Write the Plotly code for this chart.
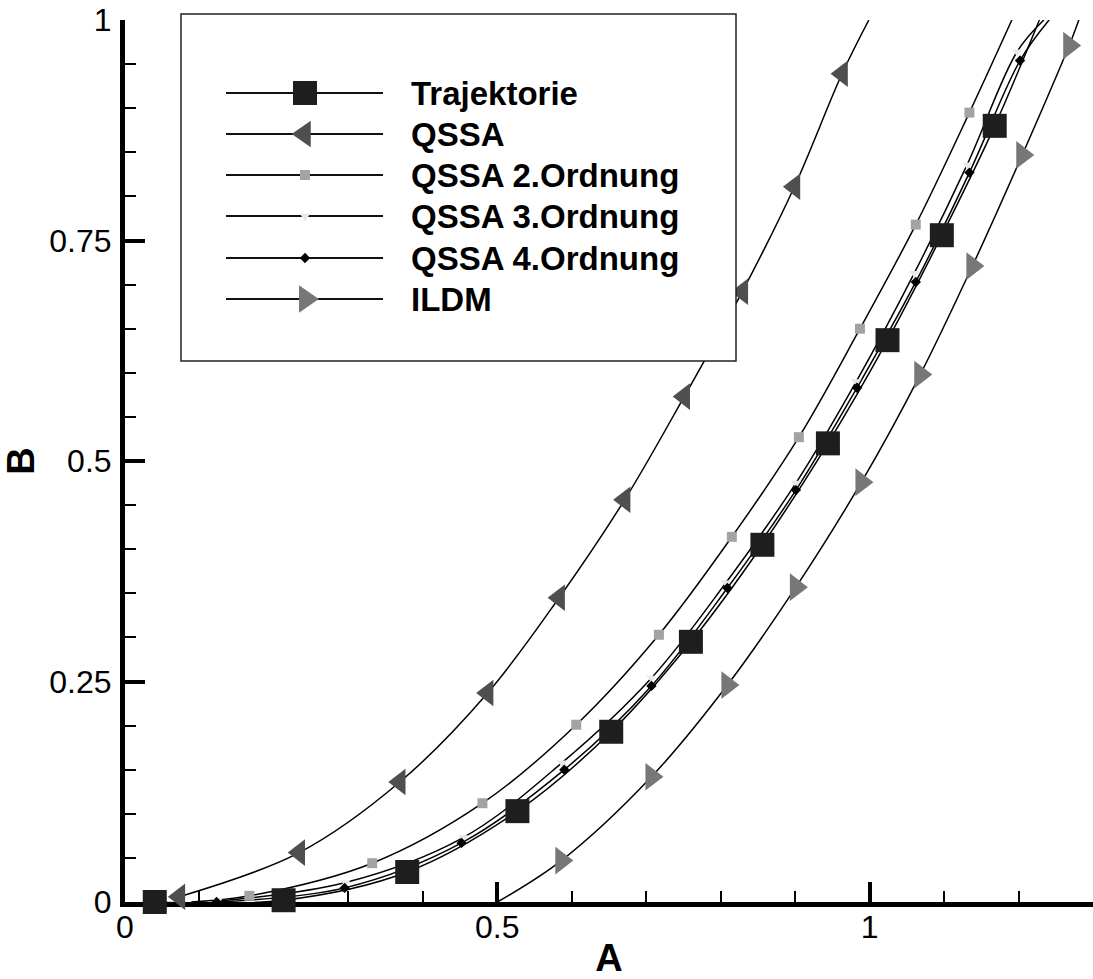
import math
import plotly.graph_objects as go

# ------------------------------------------------------------------
# Data: marker positions (A, B) of every curve, plus the point where
# each curve starts and where it leaves the top of the frame.
# ------------------------------------------------------------------
TRAJ_A = [0.040, 0.213, 0.379, 0.527, 0.653, 0.760, 0.856, 0.944, 1.024, 1.097, 1.168]
TRAJ_B = [0.000, 0.002, 0.034, 0.103, 0.193, 0.295, 0.405, 0.520, 0.637, 0.756, 0.880]
TRAJ_START = None
TRAJ_END = (1.228, 1.0)

QSSA_A = [0.073, 0.234, 0.369, 0.487, 0.583, 0.671, 0.751, 0.829, 0.899, 0.963]
QSSA_B = [0.006, 0.056, 0.136, 0.237, 0.345, 0.456, 0.573, 0.692, 0.811, 0.939]
QSSA_START = None
QSSA_END = (0.999, 1.0)

QSSA2_A = [0.167, 0.332, 0.480, 0.606, 0.717, 0.815, 0.905, 0.987, 1.062, 1.134]
QSSA2_B = [0.007, 0.044, 0.112, 0.201, 0.303, 0.414, 0.527, 0.650, 0.768, 0.895]
QSSA2_START = (0.089, 0.0)
QSSA2_END = (1.191, 1.0)

QSSA3_A = [0.124, 0.296, 0.454, 0.587, 0.707, 0.807, 0.901, 0.982, 1.060, 1.131, 1.198]
QSSA3_B = [0.001, 0.022, 0.073, 0.158, 0.254, 0.362, 0.475, 0.590, 0.713, 0.836, 0.964]
QSSA3_START = None
QSSA3_END = (1.234, 1.0)

QSSA4_A = [0.123, 0.295, 0.452, 0.590, 0.707, 0.809, 0.901, 0.983, 1.062, 1.134, 1.202]
QSSA4_B = [0.000, 0.016, 0.067, 0.150, 0.245, 0.356, 0.467, 0.583, 0.703, 0.827, 0.954]
QSSA4_START = None
QSSA4_END = (1.241, 1.0)

ILDM_A = [0.586, 0.707, 0.809, 0.901, 0.989, 1.068, 1.138, 1.205, 1.268]
ILDM_B = [0.047, 0.142, 0.246, 0.357, 0.476, 0.598, 0.721, 0.847, 0.971]
ILDM_START = (0.500, 0.0)
ILDM_END = (1.281, 1.0)

NAMES = ["Trajektorie", "QSSA", "QSSA 2.Ordnung", "QSSA 3.Ordnung",
         "QSSA 4.Ordnung", "ILDM"]

X_TICKS = [0, 0.5, 1]
Y_TICKS = [0, 0.25, 0.5, 0.75, 1]

# ------------------------------------------------------------------
# Styling
# ------------------------------------------------------------------
FONT = "Liberation Sans, Arial, Helvetica, sans-serif"
W, H = 1093, 979
L, R, T, B = 125, 0, 20, 77          # plot area margins (px)

series = [
    (TRAJ_A, TRAJ_B, TRAJ_START, TRAJ_END, dict(symbol="square", size=24, color="#1e1e1e")),
    (QSSA_A, QSSA_B, QSSA_START, QSSA_END, dict(symbol="triangle-left", size=23, color="#4f4f4f")),
    (QSSA2_A, QSSA2_B, QSSA2_START, QSSA2_END, dict(symbol="square", size=10, color="#a3a3a3")),
    (QSSA3_A, QSSA3_B, QSSA3_START, QSSA3_END, dict(symbol="triangle-down", size=9, color="#e8e8e8")),
    (QSSA4_A, QSSA4_B, QSSA4_START, QSSA4_END, dict(symbol="diamond", size=8, color="#000000")),
    (ILDM_A, ILDM_B, ILDM_START, ILDM_END, dict(symbol="triangle-right", size=24, color="#777777")),
]

fig = go.Figure()

# curves first
for (xa, yb, start, end, mk), name in zip(series, NAMES):
    lx, ly = list(xa), list(yb)
    if start is not None:
        lx.insert(0, start[0]); ly.insert(0, start[1])
    if end is not None:
        lx.append(end[0]); ly.append(end[1])
    fig.add_trace(go.Scatter(
        x=lx, y=ly, mode="lines", name=name, showlegend=False,
        line=dict(color="black", width=1.5, shape="spline", smoothing=1.0),
        hoverinfo="skip"))

# symbols on top of all curves
for (xa, yb, start, end, mk), name in zip(series, NAMES):
    fig.add_trace(go.Scatter(
        x=xa, y=yb, mode="markers", name=name, showlegend=False,
        cliponaxis=False,
        marker=dict(symbol=mk["symbol"], size=mk["size"], color=mk["color"],
                    line=dict(width=0))))

# ------------------------------------------------------------------
# Legend box, laid out in page pixels
# ------------------------------------------------------------------
def px_x(x):
    return (x - L) / (W - L - R)


def px_y(y):
    return (H - B - y) / (H - T - B)


def symbol_path(symbol, size):
    """Outline of a marker symbol in pixels around its centre (y up)."""
    r = size / 2.0
    rt = r * 2 / math.sqrt(3)
    r2 = r / 2.0
    if symbol == "square":
        return f"M{-r},{-r}L{r},{-r}L{r},{r}L{-r},{r}Z"
    if symbol == "triangle-left":
        return f"M{-rt},0L{r2},{rt}L{r2},{-rt}Z"
    if symbol == "triangle-right":
        return f"M{rt},0L{-r2},{rt}L{-r2},{-rt}Z"
    if symbol == "triangle-down":
        return f"M{-rt},{r2}L{rt},{r2}L0,{-rt}Z"
    if symbol == "diamond":
        rd = r * 1.3
        return f"M{rd},0L0,{rd}L{-rd},0L0,{-rd}Z"
    raise ValueError(symbol)


BOX = (181, 14, 736, 361)
ROW_Y = [93, 134, 175, 216, 258, 299]
KEY_X0, KEY_X1, KEY_MID, TEXT_X = 226, 383, 305, 409

shapes = [dict(type="rect", xref="paper", yref="paper",
               x0=px_x(BOX[0]), x1=px_x(BOX[2]), y0=px_y(BOX[3]), y1=px_y(BOX[1]),
               line=dict(color="#222222", width=1.5), fillcolor="white", layer="above")]
annotations = []
for (xa, yb, start, end, mk), ry, name in zip(series, ROW_Y, NAMES):
    shapes.append(dict(type="line", xref="paper", yref="paper",
                       x0=px_x(KEY_X0), x1=px_x(KEY_X1), y0=px_y(ry), y1=px_y(ry),
                       line=dict(color="#111111", width=2), layer="above"))
    shapes.append(dict(type="path", xref="paper", yref="paper",
                       xsizemode="pixel", ysizemode="pixel",
                       xanchor=px_x(KEY_MID), yanchor=px_y(ry),
                       path=symbol_path(mk["symbol"], mk["size"]),
                       fillcolor=mk["color"], line=dict(width=0), layer="above"))
    annotations.append(dict(xref="paper", yref="paper", x=px_x(TEXT_X), y=px_y(ry),
                            xanchor="left", yanchor="middle", showarrow=False,
                            text="<b>%s</b>" % name,
                            font=dict(family=FONT, size=33, color="black")))

axis_common = dict(
    showgrid=False, zeroline=False, showline=True, linecolor="black", linewidth=5,
    ticks="inside", ticklen=20, tickwidth=4, tickcolor="black",
    tickfont=dict(family=FONT, size=32, color="black"),
    layer="below traces", automargin=False,
)

fig.update_layout(
    width=W, height=H,
    margin=dict(l=L, r=R, t=T, b=B, pad=0),
    paper_bgcolor="white", plot_bgcolor="white",
    showlegend=False,
    shapes=shapes, annotations=annotations,
    xaxis=dict(range=[0, 1.3], tickvals=X_TICKS, ticktext=["0", "0.5", "1"],
               ticklabelstandoff=-7,
               minor=dict(dtick=0.1, tick0=0, ticks="inside", ticklen=11, tickwidth=2,
                          tickcolor="black", showgrid=False),
               title=dict(text="<b>A</b>", font=dict(family=FONT, size=38, color="black"),
                          standoff=10),
               **axis_common),
    yaxis=dict(range=[0, 1], tickvals=Y_TICKS, ticktext=["0", "0.25", "0.5", "0.75", "1"],
               ticklabelstandoff=2,
               minor=dict(dtick=0.05, tick0=0, ticks="inside", ticklen=11, tickwidth=2,
                          tickcolor="black", showgrid=False),
               title=dict(text="<b>B</b>", font=dict(family=FONT, size=38, color="black"),
                          standoff=8),
               **axis_common),
)

fig.write_html("out.html")
